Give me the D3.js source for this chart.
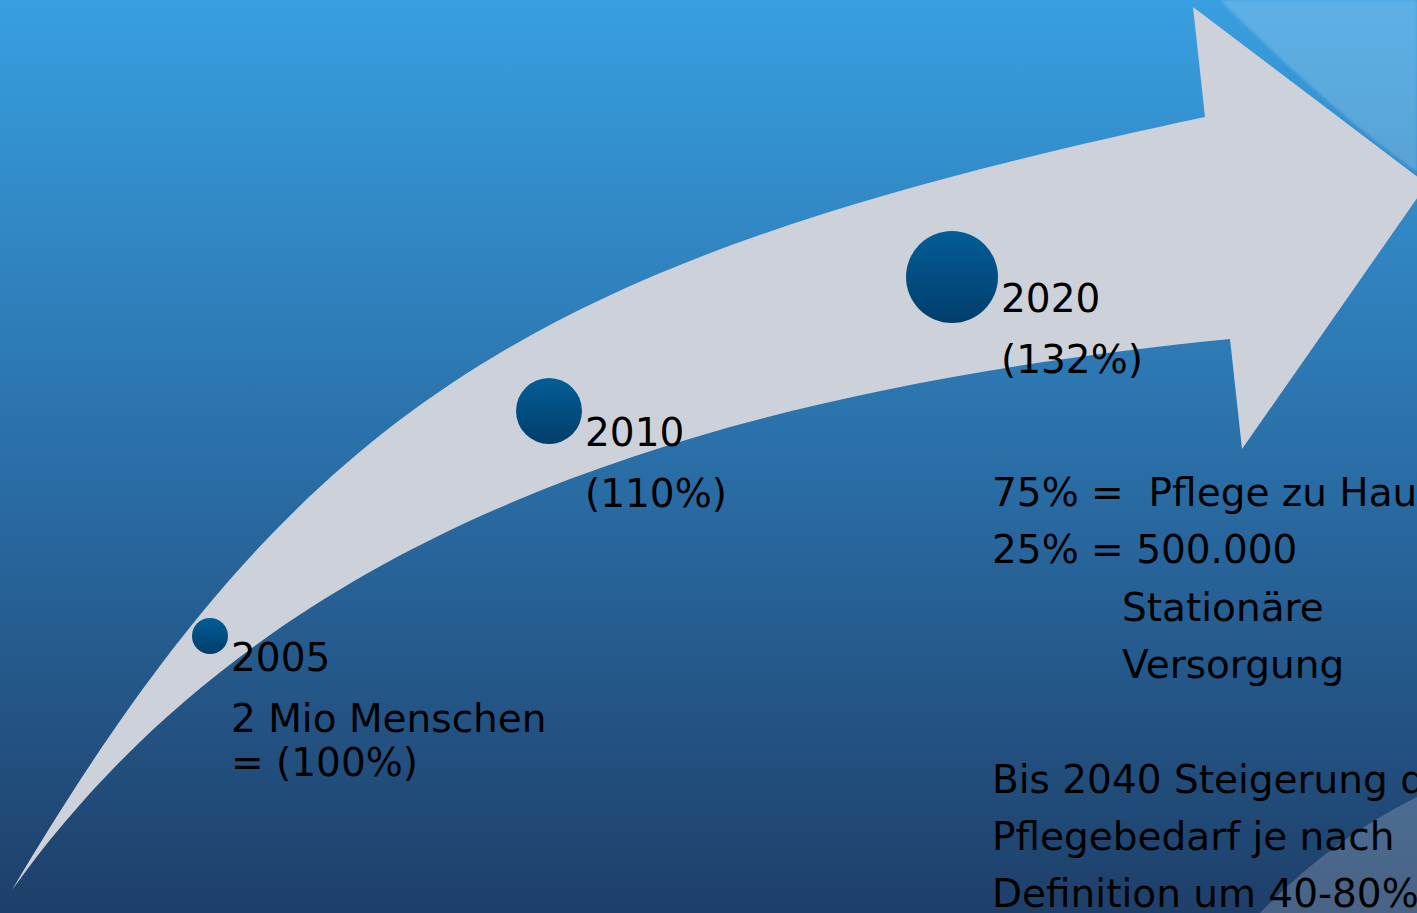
<!DOCTYPE html>
<html>
<head>
<meta charset="utf-8">
<script src="https://cdn.jsdelivr.net/npm/d3@7"></script>
<style>
  html, body { margin: 0; padding: 0; background: #1e3f69; }
  svg { display: block; }
  text { font-family: "DejaVu Sans", sans-serif; fill: #000; white-space: pre; }
</style>
</head>
<body>
<div id="chart"></div>
<script>
const W = 1417, H = 913;

// the three milestones
const years = [2005, 2010, 2020];
const growth = [100, 110, 132];
const subLabels = [["2 Mio Menschen", "= (100%)"], ["(110%)"], ["(132%)"]];

// text block on the right
const notes = [
  "75% =  Pflege zu Hause",
  "25% = 500.000",
  "Stationäre",
  "Versorgung",
  "",
  "Bis 2040 Steigerung der",
  "Pflegebedarf je nach",
  "Definition um 40-80%"
];
const indented = [false, false, true, true, false, false, false, false];

// outline of the curved arrow (bezier control points)
const upperEdge = [[12, 890], [305, 395], [547, 257], [1205, 117]];
const arrowHead = [[1193, 7], [1427, 184], [1242, 449], [1230, 339]];
const lowerEdge = [[1230, 339], [670, 395], [260, 544], [12, 890]];

let svg = d3.select("#chart").append("svg")
  .attr("width", W)
  .attr("height", H);

let defs = svg.append("defs");

let bg = defs.append("linearGradient").attr("id", "bg")
  .attr("x1", 0).attr("y1", 0).attr("x2", 0).attr("y2", 1);
bg.append("stop").attr("offset", 0).attr("stop-color", "#389fe0");
bg.append("stop").attr("offset", 0.5).attr("stop-color", "#2a6fa8");
bg.append("stop").attr("offset", 1).attr("stop-color", "#1e3f69");

let dot = defs.append("linearGradient").attr("id", "dot")
  .attr("x1", 0).attr("y1", 0).attr("x2", 0).attr("y2", 1);
dot.append("stop").attr("offset", 0).attr("stop-color", "#035d96");
dot.append("stop").attr("offset", 1).attr("stop-color", "#013e6c");

defs.append("filter").attr("id", "soft")
  .append("feGaussianBlur").attr("stdDeviation", 1.5);

svg.append("rect").attr("width", W).attr("height", H).attr("fill", "url(#bg)");

// light swooshes in the corners
svg.append("path")
  .attr("d", "M1220,0 Q1330,110 1417,172 L1417,0 Z")
  .attr("fill", "#fff").attr("fill-opacity", 0.19)
  .attr("filter", "url(#soft)");
svg.append("path")
  .attr("d", "M1417,797 Q1330,840 1260,913 L1417,913 Z")
  .attr("fill", "#fff").attr("fill-opacity", 0.19);

// arrow
let p = d3.path();
let u = upperEdge, l = lowerEdge;
p.moveTo(u[0][0], u[0][1]);
p.bezierCurveTo(u[1][0], u[1][1], u[2][0], u[2][1], u[3][0], u[3][1]);
arrowHead.forEach(pt => p.lineTo(pt[0], pt[1]));
p.bezierCurveTo(l[1][0], l[1][1], l[2][0], l[2][1], l[3][0], l[3][1]);
p.closePath();

svg.append("path")
  .attr("d", p.toString())
  .attr("fill", "#cdd1d9");

// milestone positions along the arrow
let xPos = d3.scaleLinear().domain(years).range([210, 549, 952]);
let yPos = d3.scaleLinear().domain(years).range([636, 411, 277]);
let rad = d3.scaleLinear().domain(growth).range([18, 33, 46]);

let marks = svg.append("g")
  .selectAll("g")
  .data(years.map((y, i) => ({ year: y, pct: growth[i], sub: subLabels[i] })))
  .join("g");

marks.append("circle")
  .attr("cx", d => xPos(d.year))
  .attr("cy", d => yPos(d.year))
  .attr("r", d => rad(d.pct))
  .attr("fill", "url(#dot)");

marks.append("text")
  .attr("x", d => xPos(d.year) + rad(d.pct) + 3)
  .attr("y", d => yPos(d.year) + 35)
  .attr("font-size", 39)
  .text(d => d.year);

marks.each(function (d) {
  d3.select(this).selectAll("text.sub")
    .data(d.sub)
    .join("text")
    .attr("class", "sub")
    .attr("x", xPos(d.year) + rad(d.pct) + 3)
    .attr("y", (s, j) => yPos(d.year) + 96 + j * 44)
    .attr("font-size", 39)
    .text(s => s);
});

// notes on the right
svg.append("g")
  .selectAll("text")
  .data(notes)
  .join("text")
  .attr("x", (d, i) => indented[i] ? 1122 : 992)
  .attr("y", (d, i) => 506 + i * 57.3)
  .attr("font-size", 39)
  .text(d => d);
</script>
</body>
</html>
